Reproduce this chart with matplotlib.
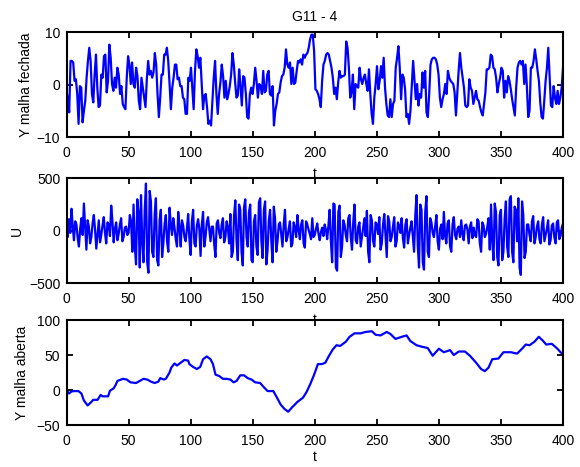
import numpy as np
import matplotlib
matplotlib.use("Agg")
import matplotlib.pyplot as plt

plt.rcParams['font.family'] = ['Liberation Sans', 'DejaVu Sans']

title = "G11 - 4"
xlabel = "t"
ylabels = ["Y malha fechada", "U", "Y malha aberta"]
xticks = [0, 50, 100, 150, 200, 250, 300, 350, 400]
yticks_top = [-10, 0, 10]
yticks_mid = [-500, 0, 500]
yticks_bot = [-50, 0, 50, 100]

# closed-loop output (~1 sample per t unit)
y_fechada = [
    -1.2, -2.8, -5.3, 4.5, 4.5, 4.2, 0.7, 1.0, -1.8, -7.5, -0.3, -0.6, -7.2, -5.0, -3.1, 1.3, 4.5, 7.0, 4.5, -1.8,
    -3.4, 1.9, 5.7, -0.6, -4.3, -4.0, 1.9, 1.3, 5.4, 5.7, -1.5, 0.7, 7.6, 5.1, 0.1, -1.2, 1.3, -0.6, 3.2, 1.9,
    -1.8, -0.3, -3.7, -4.3, -4.7, 1.3, 5.4, 3.8, 0.1, 4.2, 0.1, -0.6, 3.2, 1.6, -3.1, -4.7, 1.3, -0.6, -2.5, -4.3,
    1.0, 4.5, 1.9, 2.6, 1.3, 2.3, 6.0, 3.8, -1.8, -6.2, -2.5, 1.9, 1.9, 5.7, 5.7, 7.0, 4.5, 0.1, -4.7, -0.6,
    1.3, 3.8, 3.8, 1.0, 1.3, -0.3, -0.3, -2.5, -2.8,
    -5.6, -5.6, 1.3, 0.7, 3.2, -0.6, -4.7, 2.6, 6.7, 5.4, 3.2, 5.1, 0.1, -4.7, -2.1, -1.8, -4.3, -7.5, -6.9, -7.8,
    -3.1, 1.3, 4.5, -1.8, -5.6, -1.8, 0.4, 3.8, 1.6, -2.5, 0.7, -2.8, -1.8, -0.3, 1.9, 6.0, 3.8, 0.4, -2.5, -2.1,
    2.9, -0.3, -4.0, 1.6, 1.3, -1.8, -6.2, -6.5, -1.8, -0.6, -1.8, 0.1, 3.2, 0.7, -2.5, 0.1, -0.3, -1.8, 2.6, -1.5,
    -1.2, 1.9, 2.6, -1.8, -2.1, -0.3, -7.8, -5.0, -3.7, -1.8, -1.5, 0.4, 1.6, 1.9, 3.2, 6.7, 3.8, 3.2, 4.2, 0.1,
    3.2, 0.1, 0.4, 2.6, 4.5, 4.2, 4.8, 3.8, 5.7, 5.1, 5.7, 6.0, 7.0, 8.6, 9.5,
    9.5, 6.4, -0.9, -1.2, -1.8, -2.8, -4.3, 0.7, 3.8, 4.5, 5.7, 6.0, 5.7, 4.5, 3.2, 1.3, -1.8, -0.6, -2.8, 0.4,
    2.6, 1.3, 1.6, 1.6, 1.9, 8.2, 7.0, 3.2, -2.5, -1.5, 1.9, -4.7, 0.1, -0.3, -0.6, 3.2, 1.0, 0.1, 1.3, 1.9,
    0.1, -1.2, 2.9, -1.8, -5.6, -7.5, -2.5, 0.1, 3.5, -0.9, 0.7, 3.5, 1.3, 5.1, -0.6, -3.7, -5.9, -6.2, -2.8, -6.2,
    -3.7, -3.1, 3.2, 5.1, 7.3, 3.2, -2.8, 1.9, 1.3, -0.9, -6.2, -5.6, -7.5, -5.0, -0.3, 4.5, 0.7, -2.8, 0.1, -4.0,
    -1.8, -2.5, 2.3, -0.6, 2.6, -5.3, -6.2, -1.8, 3.8, 4.8, 5.1, 5.1, 4.8,
    3.8, 1.9, -2.5, -4.3, -2.8, -1.8, 0.1, -1.8, 2.6, 1.3, 0.7, 0.4, 0.1, -1.5, -5.9, -1.5, 2.6, 6.0, 3.2, 1.3,
    -0.6, -4.0, -4.3, -4.0, 1.0, -0.6, -1.2, -3.7, -2.5, -1.2, -2.8, -3.1, -4.3, -5.3, -5.9, -3.7, -1.5, 2.9, 2.9, 3.2,
    5.7, 5.4, 3.2, 2.9, 1.3, -1.5, 0.1, 1.3, 3.2, 2.6, -2.5, 0.7, -1.5, 1.6, 0.7, -0.9, -2.8, -4.3, -5.9, -0.6,
    3.2, 4.2, 4.5, 3.8, 4.5, 0.1, 3.8, -0.3, -6.2, -5.0, 3.2, 3.2, 4.5, 6.7, 4.8, 2.6, 0.7, -3.4, -6.2, -6.5,
    -3.1, 0.7, 3.2, 7.0, 1.3, -4.0, -4.3, -0.3, -2.5, -3.7, -1.2, -3.7, -2.5, -0.6, 3.2,
]

# control signal (one value per t unit)
u_signal = [
    30, -60, 110, -20, 210, 40, -90, 90, 60, -70, -150, 20, 120, -40, 260, 30, -180, 100, 40, -120,
    -60, 70, 150, 10, -170, -30, 100, -110, -40, 50, 130, -20, -120, 80, 60, -50, 240, 90, -110, 20,
    80, -90, -30, 60, 120, -100, -60, 30, 40, -40,
    -20, 150, 90, -200, 250, -150, -320, 300, 180, -350, 340, -100, -300, 200, 450, -300, -400, 380, 280, -200,
    -250, 150, 310, -280, -330, 100, 200, -250,
    -120, 60, 150, -100, -200, 220, 60, -40, 120, 30, -80, -150, 180, 40, -150, 100, 50, -60, -100, 20,
    160, -80, -230, 90, 200, -120, -150, 50, 110, 20, -240, 60, 180, -150, -60, 80, 130, 10, -100, 40,
    40, -130, -250, 70, 100, -20, -70, 60, 120, -110, -60, 90, 30, -120,
    160, -250, -200, 150, 290, -100, -280, 250, 200, -200, -330, 220, 300, -60, -150, 180, 250, -280, -300, 90,
    150, -150, -230, 270, 310, -100, -260, 200, 280, -320, -180, 100, 200, -100, -300, 230, 120, -200, -100, 60,
    80, -40, -150, 60, 200, -100, -60, 20, 90, -150, -120, 80, 30, -60, 150, 10, -80, 60, 100, -120,
    -160, 90, 60, 10, -30, -80, 120, -60,
    -40, 20, 70, -30, -90, -10, 30, -50, 60, 10, -80, 50,
    200, -100, -300, 260, 250, -350, -380, 180, 240, -250, -150, 100,
    60, -40, -100, 120, 150, -60, -180, 80, 250, -90, -120, 40, 80, -150, -60, 30, 120, -50, 190, -200,
    -300, 150, 100, -100, -150, 80, 60, -30, 130, -180, -120, 60, 160, -40, -250, 140, 90, -100, -60, 40,
    130, -150, -100, 80, 50, -20, 120, -70, -160, 60, 110, -120, -40, 30, 90, -50,
    -200, 150, 340, -150, -350, 250, 200, -300, -370, 180, 330, -200, -250, 120,
    80, -20, -60, 40, 150, -100, -180, 20, 60, -80, 180, -50, -120, 70, 100, -150, -200, 60, 130, -40,
    -80, 20, 40, -60, 100, -30, -90, 50, 60, 10, -120, 40, 80, -70, 30, -40, -60, 110, 90, -120,
    -200, 80, 50, -60, -30, 40,
    120, -180, 250, -100, -280, 260, 180, -250, -330, 150, 200, -280, -200, 120, 280, -150, -250, 300, 330, -200,
    -300, 230, 200, -100, 310, -350, -420, 280, 150, -260, -200, 60,
    60, -40, -100, 90, 140, -120, -60, 40, 90, -80, -120, 60, 130, -100, -40, 20, 100, -130, -90, 50,
    70, -60, -120, 80, 100, -80, -50, 30, 70,
]

# open-loop output (t, value)
t_aberta = [0, 2, 4, 6.6, 9.6, 12, 14, 17, 20, 21.5, 25, 27.5, 29, 33.5, 35, 38, 39.5, 41, 45.5, 48.5,
            51.5, 56, 59, 62, 65, 68, 71, 74, 75.5, 78.4, 80, 83, 84.4, 87, 89, 92, 95, 98, 99, 102,
            105, 107.7, 110, 113, 116, 118, 120, 123, 126, 129, 132, 134.6, 137, 140, 143, 146, 149, 152, 156, 159,
            162, 166.6, 169.6, 172.6, 175.6, 178.6, 181.6, 186, 190.5, 193.5, 196.5, 199.5, 202.5, 205.5, 208.5, 211.5, 214.5, 217.5, 220.5, 225,
            228, 232, 237, 241, 246, 249, 253, 258, 261, 265, 270, 274, 277, 282, 286, 291, 295, 300, 304, 309,
            312, 316, 321, 325, 330, 334, 337, 340, 343, 348, 352, 358, 363, 367, 370, 373, 377, 380.5, 383.5, 386.5,
            391, 395.5, 398, 400]
y_aberta = [0, -5, -2, -1.5, -1.5, -5, -15, -22, -17, -14, -14, -7, -9, -9, -1, 2.5, 7, 13, 16, 15,
            11, 10, 13, 16, 15, 12, 10, 12, 17, 15, 16, 25, 32, 38, 35, 39, 43, 42, 37, 33,
            30, 33, 44, 48, 44, 37, 22, 20, 16, 16, 15, 11, 13, 21, 21, 17, 15, 11, 10, 4,
            -1.5, -1.5, -11, -21, -27, -31, -25, -17, -11, -2.5, 9, 22, 37, 37, 39, 49, 58, 64, 63, 69,
            76, 81, 81, 83, 84, 79, 78, 83, 80, 73, 76, 78, 70, 64, 62, 60, 49, 59, 54, 57,
            50, 55, 55, 49, 39, 30, 27, 32, 44, 45, 54, 54, 52, 59, 65, 64, 69, 76, 71, 65,
            66, 59, 54, 51]

blue = (0, 0, 1)
fig = plt.figure(figsize=(5.8, 4.67), dpi=100)
fig.patch.set_facecolor('white')

left, width, height = 0.1147, 0.856, 0.2248
bottoms = [0.7066, 0.3934, 0.0899]
ylabel_x = [-0.0675, -0.0856, -0.0755]
xlabel_pad = [5, 5, 1.5]

t_f = np.linspace(0, 400, len(y_fechada))
t_u = np.linspace(0, 400, len(u_signal))

series = [(t_f, y_fechada, (-10, 10), yticks_top),
          (t_u, u_signal, (-500, 500), yticks_mid),
          (t_aberta, y_aberta, (-50, 100), yticks_bot)]

for i, (tt, yy, ylim, yt) in enumerate(series):
    ax = fig.add_axes([left, bottoms[i], width, height])
    ax.plot(tt, yy, color=blue, lw=1.6)
    ax.set_xlim(0, 400)
    ax.set_ylim(*ylim)
    ax.set_xticks(xticks)
    ax.set_yticks(yt)
    ax.tick_params(direction='in', length=4, width=1.3, top=True, right=True,
                   labelsize=10, colors='black')
    ax.tick_params(axis='x', pad=6.5)
    ax.tick_params(axis='y', pad=4.5)
    for s in ax.spines.values():
        s.set_linewidth(1.5)
    ax.set_xlabel(xlabel, fontsize=10, labelpad=xlabel_pad[i])
    ax.set_ylabel(ylabels[i], fontsize=10)
    ax.yaxis.set_label_coords(ylabel_x[i], 0.5)
    if i == 0:
        ax.set_title(title, fontsize=10, pad=8)

fig.savefig("out.png", dpi=100)
